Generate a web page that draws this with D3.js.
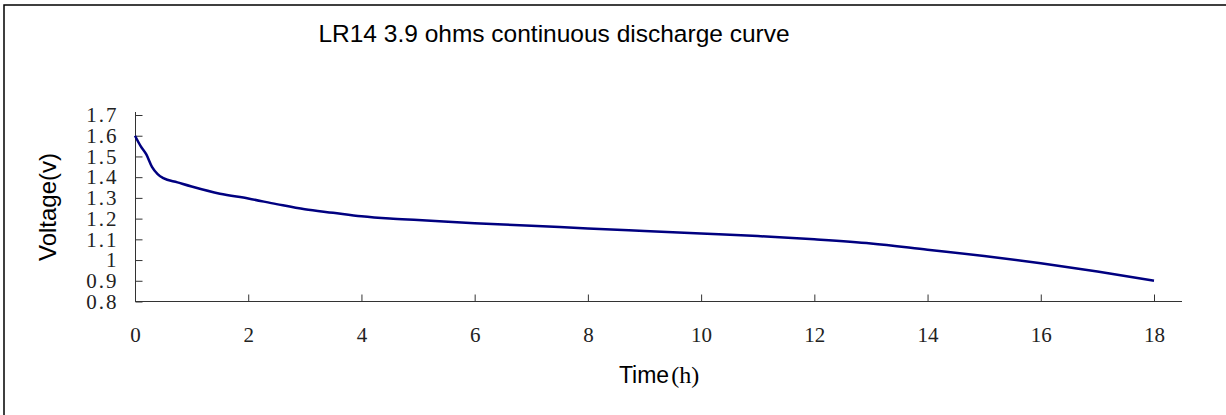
<!DOCTYPE html>
<html>
<head>
<meta charset="utf-8">
<script src="https://cdn.jsdelivr.net/npm/d3@7"></script>
<style>
  body { margin: 0; background: #fff; }
  svg { display: block; }
</style>
</head>
<body>
<script>
var width = 1226,
    height = 415;

// discharge readings (hours, volts)
var hours = [0, 0.1, 0.2, 0.3, 0.4, 0.5, 0.75, 1, 1.5, 2, 2.5, 3, 3.5, 4, 4.5, 5, 6, 7, 8, 9, 10, 11, 12, 13, 14, 15, 16, 17, 18];
var volts = [1.60, 1.55, 1.51, 1.45, 1.415, 1.395, 1.375, 1.355, 1.32, 1.297, 1.27, 1.245, 1.228, 1.211, 1.200, 1.193, 1.178, 1.166, 1.152, 1.14, 1.128, 1.116, 1.10, 1.08, 1.05, 1.02, 0.985, 0.945, 0.90];

var xTicks = [0, 2, 4, 6, 8, 10, 12, 14, 16, 18];
var yTicks = [0.8, 0.9, 1.0, 1.1, 1.2, 1.3, 1.4, 1.5, 1.6, 1.7];
var yTickLabels = ["0.8", "0.9", "1", "1.1", "1.2", "1.3", "1.4", "1.5", "1.6", "1.7"];

var svg = d3.select("body").append("svg")
    .attr("width", width)
    .attr("height", height);

// frame (only left/top edges fall inside the picture)
svg.append("rect")
    .attr("x", 4)
    .attr("y", 5)
    .attr("width", width + 20)
    .attr("height", height + 20)
    .attr("fill", "none")
    .attr("stroke", "#000")
    .attr("stroke-width", 1.5);

var x = d3.scaleLinear().domain([0, 18]).range([135, 1154]);
var y = d3.scaleLinear().domain([0.8, 1.7]).range([301.5, 115]);

var xAxis = svg.append("g")
    .attr("transform", "translate(0," + 301.5 + ")")
    .call(d3.axisBottom(x).tickValues(xTicks).tickSize(-7).tickSizeOuter(0).tickPadding(26));

var yAxis = svg.append("g")
    .attr("transform", "translate(" + 135.5 + ",0)")
    .call(d3.axisLeft(y).tickValues(yTicks).tickSize(-7).tickSizeOuter(0).tickPadding(17)
        .tickFormat(function(d, i) { return yTickLabels[i]; }));

[xAxis, yAxis].forEach(function(g) {
    g.select(".domain").remove();
    g.selectAll("line").attr("stroke", "#333");
    g.selectAll("text")
        .attr("fill", "#222")
        .style("font-family", "'Liberation Serif', 'DejaVu Serif', serif")
        .style("font-size", "21px");
});
yAxis.selectAll("text").style("letter-spacing", "2px");

// axis lines, running a little past the last ticks
svg.append("line")
    .attr("x1", 135).attr("x2", 1182)
    .attr("y1", 301.5).attr("y2", 301.5)
    .attr("stroke", "#333");
svg.append("line")
    .attr("x1", 135.5).attr("x2", 135.5)
    .attr("y1", 302).attr("y2", 112)
    .attr("stroke", "#333");

var line = d3.line()
    .x(function(d, i) { return x(hours[i]); })
    .y(function(d) { return y(d); })
    .curve(d3.curveMonotoneX);

svg.append("path")
    .datum(volts)
    .attr("d", line)
    .attr("fill", "none")
    .attr("stroke", "#000080")
    .attr("stroke-width", 2.5);

svg.append("text")
    .attr("x", 554)
    .attr("y", 42)
    .attr("text-anchor", "middle")
    .style("font-family", "'Liberation Sans', Arial, sans-serif")
    .style("font-size", "24.5px")
    .text("LR14 3.9 ohms continuous discharge curve");

var xl = svg.append("text")
    .attr("x", 659)
    .attr("y", 383)
    .attr("text-anchor", "middle")
    .style("font-family", "'Liberation Sans', Arial, sans-serif")
    .style("font-size", "23px");
xl.append("tspan").text("Time");
xl.append("tspan")
    .attr("dx", 2)
    .style("font-family", "'Liberation Serif', serif")
    .style("font-size", "24px")
    .text("(h)");

svg.append("text")
    .attr("transform", "translate(56,207) rotate(-90)")
    .attr("text-anchor", "middle")
    .style("font-family", "'Liberation Sans', Arial, sans-serif")
    .style("font-size", "24px")
    .text("Voltage(v)");
</script>
</body>
</html>
